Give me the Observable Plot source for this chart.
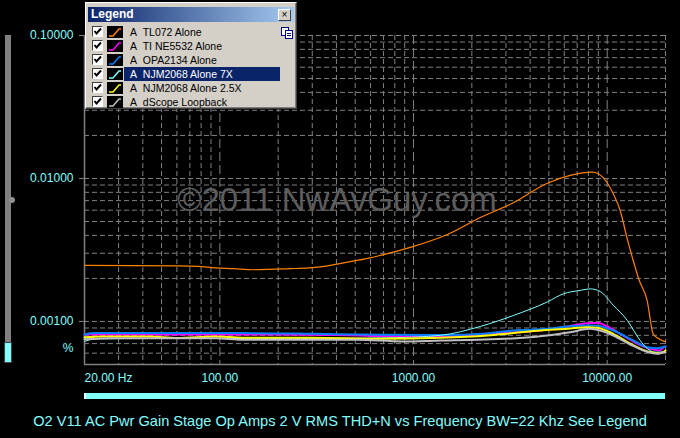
<!DOCTYPE html>
<html><head><meta charset="utf-8">
<script src="https://cdn.jsdelivr.net/npm/d3@7"></script>
<script src="https://cdn.jsdelivr.net/npm/@observablehq/plot@0.6"></script>
<style>
html,body{margin:0;padding:0;background:#000;width:680px;height:438px;overflow:hidden;font-family:"Liberation Sans",Arial,sans-serif;}
#wrap{position:relative;width:680px;height:438px;}
#chart{position:absolute;left:0;top:0;}
#caption{position:absolute;left:0;top:405px;width:680px;height:33px;line-height:33px;text-align:center;color:#80ffff;font-size:14.6px;white-space:nowrap;}
#vbar{position:absolute;left:5px;top:35px;width:6px;height:308px;background:#808080;}
#vbar2{position:absolute;left:5px;top:343px;width:6px;height:19px;background:#80ffff;box-shadow:0 0 0 1px #404040;}
#knob{position:absolute;left:9px;top:197px;width:6px;height:6px;border-radius:3px;background:#909090;}
#hbar{position:absolute;left:84px;top:393px;width:581px;height:6px;background:#80ffff;border-left:2px solid #e0ffff;box-sizing:border-box;}
#legend{position:absolute;left:85px;top:2px;width:212px;height:107px;background:#d4d0c8;box-sizing:border-box;border:1px solid;border-color:#fff #404040 #404040 #fff;box-shadow:inset -1px -1px #808080;}
#title{position:absolute;left:2px;top:4px;width:206px;height:15px;background:linear-gradient(to right,#0a246a,#a6caf0);color:#fff;font-weight:bold;font-size:12px;line-height:15px;padding-left:3px;box-sizing:border-box;}
#close{position:absolute;right:3px;top:2px;width:11px;height:10px;background:#d4d0c8;border:1px solid;border-color:#fff #404040 #404040 #fff;color:#000;font-size:10px;line-height:9px;text-align:center;font-weight:normal;}
.row{position:absolute;left:0;height:14px;width:200px;font-size:10.5px;line-height:14px;color:#000;}
.cb{position:absolute;left:6px;top:1px;width:11px;height:11px;background:#fff;box-sizing:border-box;border:1px solid;border-color:#404040 #fff #fff #404040;}
.sw{position:absolute;left:21px;top:1px;}
.lbl{position:absolute;left:38px;top:0;height:14px;padding-left:6px;width:150px;white-space:nowrap;}
.sel{background:#0a246a;color:#fff;}
#clip{position:absolute;left:195px;top:24px;}
</style>
</head><body>
<div id="wrap">
  <div id="chart"></div>
  <div id="vbar"></div><div id="vbar2"></div><div id="knob"></div>
  <div id="hbar"></div>
  <div id="legend">
    <div id="title">Legend<div id="close">×</div></div>
    <svg id="clip" width="13" height="12"><rect x="0.5" y="0.5" width="7" height="8" fill="#fff" stroke="#000080"/><rect x="4.5" y="3.5" width="7" height="8" fill="#fff" stroke="#000080"/><line x1="6" y1="6.5" x2="10" y2="6.5" stroke="#000080"/><line x1="6" y1="8.5" x2="10" y2="8.5" stroke="#000080"/></svg>
  </div>
  <div id="caption">O2 V11 AC Pwr Gain Stage Op Amps 2 V RMS THD+N vs Frequency BW=22 Khz See Legend</div>
</div>
<script>
// ---- data (frequency in Hz, THD+N in %) ----
const names = ["TL072 Alone", "TI NE5532 Alone", "OPA2134 Alone", "NJM2068 Alone 7X", "NJM2068 Alone 2.5X", "dScope Loopback"];
const colors = ["#ff8000", "#ff00ff", "#0080ff", "#80ffff", "#ffff00", "#c0c0c0"];

const fTL072 = [20, 61, 77, 95, 118, 148, 232, 288, 360, 457, 580, 676, 1000, 1496, 2213, 3273, 4907, 6445, 8372, 8990, 10000, 10740, 11670, 12680, 13620, 14630, 16080, 17260, 18110, 20000];
const vTL072 = [0.00247, 0.00245, 0.00243, 0.00237, 0.00234, 0.0023, 0.00234, 0.00237, 0.00245, 0.0026, 0.00276, 0.0029, 0.00335, 0.00406, 0.00533, 0.00676, 0.00927, 0.0105, 0.01106, 0.0108, 0.00933, 0.00782, 0.00597, 0.0038, 0.00267, 0.00194, 0.0014, 0.00082, 0.00077, 0.00072];

const fNE5532 = [20, 100, 400, 676, 1377, 2406, 3565, 4907, 6223, 7886, 8873, 10000, 11670, 14290, 16670, 18750, 19450, 20000];
const vNE5532 = [0.000811, 0.000811, 0.000805, 0.00079, 0.000785, 0.00082, 0.000842, 0.000875, 0.000923, 0.000973, 0.000979, 0.000923, 0.00082, 0.000699, 0.000644, 0.000627, 0.000655, 0.000668];

const fOPA2134 = [20, 22.4, 131, 300, 676, 1377, 2406, 3273, 4907, 6223, 7886, 8873, 10740, 13620, 16080, 18110, 20000];
const vOPA2134 = [0.000811, 0.000829, 0.000829, 0.00082, 0.000808, 0.000805, 0.000825, 0.000865, 0.000889, 0.000923, 0.000938, 0.000933, 0.000865, 0.000736, 0.000661, 0.00065, 0.000668];

const fNJM7X = [20, 22.7, 48, 262, 789, 1377, 2213, 3273, 4907, 5930, 7263, 8170, 9200, 10740, 12680, 14800, 16080, 17660, 20000];
const vNJM7X = [0.000725, 0.000755, 0.00076, 0.00076, 0.00077, 0.0008, 0.000923, 0.0011, 0.00137, 0.00156, 0.00165, 0.00169, 0.00162, 0.0013, 0.00102, 0.000736, 0.000647, 0.00061, 0.000612];

const fNJM25X = [20, 24.9, 43.5, 60, 95, 131, 300, 676, 1377, 2406, 3273, 4517, 6223, 7886, 8873, 10740, 13150, 16080, 18750, 20000];
const vNJM25X = [0.000776, 0.000785, 0.000785, 0.000765, 0.000785, 0.00077, 0.00077, 0.000757, 0.000769, 0.000798, 0.000829, 0.000865, 0.000889, 0.000912, 0.000903, 0.00082, 0.000699, 0.000617, 0.0006, 0.000627];

const fLoop = [20, 28, 95, 131, 262, 514, 877, 1377, 2138, 3690, 4907, 6445, 8170, 9200, 10740, 13150, 15350, 18110, 19450, 20000];
const vLoop = [0.00075, 0.000764, 0.000764, 0.000745, 0.000745, 0.000745, 0.000725, 0.000736, 0.000745, 0.000769, 0.000798, 0.000842, 0.000889, 0.000865, 0.000798, 0.00069, 0.000627, 0.000594, 0.00061, 0.000606];

const yTickValues = [0.1, 0.01, 0.001];
const xTickValues = [100, 1000, 10000];
const xFirstLabel = "20.00 Hz";
const unitLabel = "%";
const watermark = "©2011 NwAvGuy.com";

// ---- build ----
const seriesF = [fTL072, fNE5532, fOPA2134, fNJM7X, fNJM25X, fLoop];
const seriesV = [vTL072, vNE5532, vOPA2134, vNJM7X, vNJM25X, vLoop];
const widths = [1.2, 2, 2, 1, 2, 2];
const series = names.map((n, k) => ({name: n, color: colors[k], w: widths[k], rows: seriesF[k].map((f, i) => ({f, v: seriesV[k][i]}))}));

const xMinor = [], xMajor = [100, 1000, 10000], yGrid = [];
for (const d of [10, 100, 1000]) for (let m = 2; m <= 9; m++) xMinor.push(m * d);
xMinor.push(20000);
for (const d of [0.0001, 0.001, 0.01]) for (let m = 1; m <= 9; m++) { const v = +(m * d).toPrecision(3); if (v >= 0.0005) yGrid.push(v); }
yGrid.push(0.1);

const grey = "#808080";
const chart = Plot.plot({
  width: 680, height: 405,
  marginLeft: 84, marginRight: 15, marginTop: 35, marginBottom: 41,
  style: {background: "#000", color: "#80ffff", fontFamily: "Liberation Sans, Arial, sans-serif", fontSize: "12px", overflow: "visible"},
  x: {type: "log", domain: [20, 20000], axis: null},
  y: {type: "log", domain: [0.0005, 0.1]},
  marks: [
    Plot.gridX(xMinor, {stroke: grey, strokeOpacity: 1, strokeDasharray: "5,3"}),
    Plot.gridX(xMajor, {stroke: grey, strokeOpacity: 1, strokeDasharray: "9,4"}),
    Plot.gridY(yGrid, {stroke: grey, strokeOpacity: 1, strokeDasharray: "5,3"}),
    Plot.text([watermark], {frameAnchor: "middle", dx: -38, dy: 0, fontSize: 33, fill: "#5c5c5c", fontFamily: "Liberation Sans, Arial, sans-serif"}),
    Plot.ruleX([20], {stroke: grey, strokeWidth: 1.5}),
    Plot.ruleY([0.0005], {stroke: grey, strokeWidth: 1.5}),
    ...series.map(s => Plot.line(s.rows, {x: "f", y: "v", stroke: s.color, strokeWidth: s.w, curve: "monotone-x"})),
    Plot.axisY({ticks: yTickValues, tickFormat: d => d.toFixed(5), tickSize: 5, tickPadding: 6, stroke: grey, fill: "#80ffff", fontSize: 12, label: null}),
    Plot.text([unitLabel], {frameAnchor: "left", y: () => 0.00065, dx: -11, textAnchor: "end", fill: "#80ffff", fontSize: 12}),
    Plot.text(xTickValues, {x: d => d, frameAnchor: "bottom", dy: 17, text: d => d.toFixed(2), fill: "#80ffff", fontSize: 12}),
    Plot.text([20], {x: d => d, frameAnchor: "bottom", dy: 17, text: () => xFirstLabel, textAnchor: "start", fill: "#80ffff", fontSize: 12})
  ]
});
document.getElementById("chart").appendChild(chart);

// legend window rows
const lg = document.getElementById("legend");
names.forEach((n, i) => {
  const r = document.createElement("div");
  r.className = "row";
  r.style.top = (22 + 14 * i) + "px";
  r.style.left = "0px";
  r.innerHTML = `<div class="cb"><svg width="9" height="9" style="position:absolute;left:0;top:0"><path d="M1.5,4 L3.5,6.5 L8,1.5" fill="none" stroke="#000" stroke-width="2"/></svg></div>
    <svg class="sw" width="16" height="12"><rect x="0" y="0" width="16" height="12" fill="#000"/><path d="M2,10 L6,10 L12,3 L14,3" fill="none" stroke="${colors[i]}" stroke-width="1.5"/></svg>
    <div class="lbl${i === 3 ? " sel" : ""}">A&nbsp; ${n}</div>`;
  lg.appendChild(r);
});
</script>
</body></html>
